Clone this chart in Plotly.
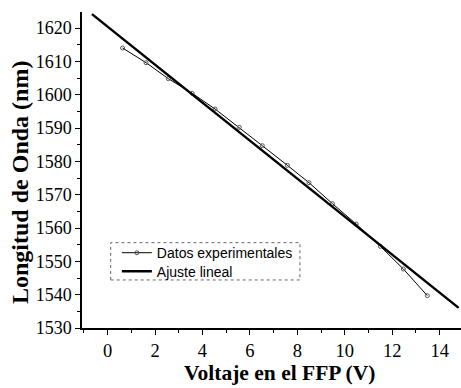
import numpy as np
import plotly.graph_objects as go

# Experimental data (voltage in V, wavelength in nm)
voltage = [0.63, 1.62, 2.56, 3.57, 4.53, 5.55, 6.52, 7.58, 8.49, 9.48, 10.48, 11.5, 12.47, 13.48]
wavelength = [1614.0, 1609.6, 1604.8, 1600.4, 1595.7, 1590.2, 1584.7, 1578.8, 1573.6, 1567.3,
              1561.2, 1554.5, 1547.7, 1539.7]

# Linear fit parameters
fit_slope = -5.70
fit_intercept = 1620.4
fit_x = np.array([-0.66, 14.8])
fit_y = fit_intercept + fit_slope * fit_x

x_ticks = [0, 2, 4, 6, 8, 10, 12, 14]
y_ticks = [1530, 1540, 1550, 1560, 1570, 1580, 1590, 1600, 1610, 1620]

x_title = "Voltaje en el FFP (V)"
y_title = "Longitud de Onda (nm)"

serif = "Liberation Serif, Times New Roman, serif"
sans = "Liberation Sans, Arial, sans-serif"

fig = go.Figure()
fig.add_trace(go.Scatter(
    x=voltage, y=wavelength, mode="lines+markers", name="Datos experimentales",
    line=dict(color="black", width=1),
    marker=dict(symbol="circle-open", size=4, color="#555555", line=dict(width=1)),
    legend="legend",
))
fig.add_trace(go.Scatter(
    x=fit_x, y=fit_y, mode="lines", name="Ajuste lineal",
    line=dict(color="black", width=2.5),
    legend="legend2",
))

legend_style = dict(
    xanchor="left", yanchor="middle",
    bgcolor="rgba(0,0,0,0)", borderwidth=0,
    font=dict(family=sans, size=14, color="black"),
    itemwidth=30,
)

fig.update_layout(
    width=461, height=388,
    margin=dict(l=82, r=0, t=12, b=60),
    paper_bgcolor="white", plot_bgcolor="white",
    showlegend=True,
    legend=dict(x=0.092, y=0.237, **legend_style),
    legend2=dict(x=0.092, y=0.178, **legend_style),
    shapes=[dict(type="rect", xref="paper", yref="paper",
                 x0=0.0757, x1=0.575, y0=0.152, y1=0.270,
                 line=dict(color="#666666", width=1, dash="dot"))],
    annotations=[
        dict(text="<b>%s</b>" % x_title, xref="paper", yref="paper",
             x=0.52, y=-0.142, xanchor="center", yanchor="middle", showarrow=False,
             font=dict(family=serif, size=21.5, color="black")),
        dict(text="<b>%s</b>" % y_title, xref="paper", yref="paper",
             x=-0.1636, y=0.462, xanchor="center", yanchor="middle", showarrow=False,
             textangle=-90, font=dict(family=serif, size=24, color="black")),
    ],
)
fig.update_xaxes(
    range=[-1.08, 14.9], tickvals=x_ticks, ticktext=[str(v) for v in x_ticks],
    showline=True, linecolor="black", linewidth=1.5, mirror=False,
    ticks="outside", ticklen=5, tickwidth=1.2, tickcolor="black",
    minor=dict(dtick=1, tick0=0, ticks="outside", ticklen=3, tickcolor="black", tickwidth=1),
    showgrid=False, zeroline=False,
    tickfont=dict(family=serif, size=18.5, color="black"),
)
fig.update_yaxes(
    range=[1530, 1624.8], tickvals=y_ticks, ticktext=[str(v) for v in y_ticks],
    showline=True, linecolor="black", linewidth=1.5, mirror=False,
    ticks="outside", ticklen=5, tickwidth=1.2, tickcolor="black",
    minor=dict(dtick=5, tick0=1530, ticks="outside", ticklen=3, tickcolor="black", tickwidth=1),
    showgrid=False, zeroline=False,
    tickfont=dict(family=serif, size=18, color="black"),
)

fig.write_html("out.html")
